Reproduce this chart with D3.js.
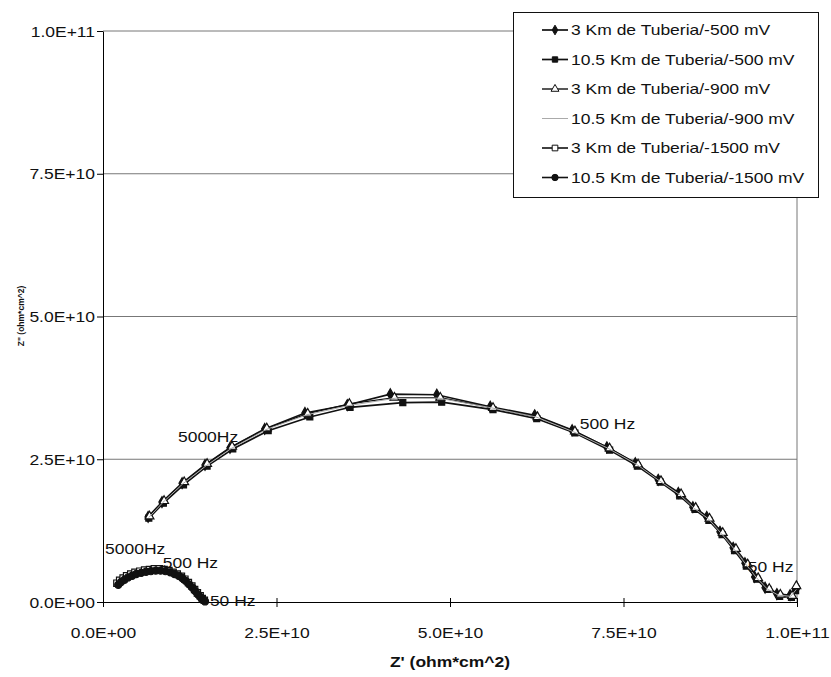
<!DOCTYPE html>
<html>
<head>
<meta charset="utf-8">
<script src="https://cdn.jsdelivr.net/npm/d3@7/dist/d3.min.js"></script>
<style>
  html, body { margin: 0; padding: 0; background: #fff; }
  svg { display: block; }
  text { font-family: "Liberation Sans", Arial, sans-serif; fill: #111; }
</style>
</head>
<body>
<svg id="chart" width="831" height="677"></svg>
<script>
// ---------------- DATA (values in units of 1E+10 ohm*cm^2) ----------------
const UNIT = 1e10;

const seriesNames = [
  "3 Km de Tuberia/-500 mV",
  "10.5 Km de Tuberia/-500 mV",
  "3 Km de Tuberia/-900 mV",
  "10.5 Km de Tuberia/-900 mV",
  "3 Km de Tuberia/-1500 mV",
  "10.5 Km de Tuberia/-1500 mV"
];

// 3 Km / -500 mV  [Z', Z'']
const s3km500 = [
  [0.65,1.49],[0.85,1.75],[1.14,2.08],[1.47,2.40],[1.83,2.70],[2.33,3.03],[2.91,3.31],
  [3.52,3.45],[4.14,3.64],[4.81,3.63],[5.58,3.42],[6.22,3.27],[6.76,3.01],[7.26,2.71],
  [7.67,2.43],[8.00,2.14],[8.29,1.91],[8.50,1.66],[8.70,1.49],[8.89,1.23],[9.08,0.95],
  [9.25,0.68],[9.39,0.44],[9.54,0.25],[9.71,0.14],[9.90,0.12],[10.0,0.25]
];
// 10.5 Km / -500 mV
const s105km500 = [
  [0.66,1.47],[0.87,1.73],[1.16,2.05],[1.50,2.38],[1.87,2.68],[2.38,3.00],[2.98,3.24],
  [3.56,3.41],[4.32,3.49],[4.88,3.50],[5.62,3.37],[6.25,3.21],[6.80,2.96],[7.30,2.66],
  [7.70,2.38],[8.03,2.10],[8.31,1.86],[8.53,1.62],[8.73,1.43],[8.92,1.18],[9.10,0.90],
  [9.27,0.63],[9.42,0.40],[9.58,0.22],[9.75,0.10],[9.92,0.08],[9.98,0.20]
];
// 3 Km / -900 mV
const s3km900 = [
  [0.67,1.50],[0.88,1.77],[1.17,2.10],[1.50,2.42],[1.86,2.72],[2.36,3.04],[2.95,3.30],
  [3.55,3.47],[4.20,3.58],[4.86,3.58],[5.62,3.40],[6.26,3.24],[6.80,2.99],[7.30,2.69],
  [7.71,2.41],[8.04,2.12],[8.33,1.89],[8.54,1.65],[8.74,1.46],[8.93,1.21],[9.12,0.93],
  [9.29,0.66],[9.44,0.42],[9.60,0.23],[9.76,0.13],[9.93,0.11],[9.99,0.28]
];
// 10.5 Km / -900 mV
const s105km900 = [
  [0.66,1.48],[0.86,1.74],[1.15,2.07],[1.49,2.39],[1.85,2.69],[2.35,3.02],[2.94,3.28],
  [3.54,3.44],[4.22,3.57],[4.84,3.57],[5.60,3.40],[6.24,3.24],[6.78,2.98],[7.28,2.69],
  [7.69,2.41],[8.02,2.12],[8.31,1.88],[8.52,1.64],[8.72,1.46],[8.91,1.20],[9.10,0.92],
  [9.27,0.65],[9.42,0.42],[9.57,0.23],[9.73,0.12],[9.91,0.10],[9.99,0.22]
];
// 3 Km / -1500 mV
const s3km1500 = [
  [0.20,0.33],[0.24,0.38],[0.29,0.42],[0.34,0.46],[0.40,0.49],[0.46,0.52],[0.53,0.54],
  [0.60,0.56],[0.67,0.57],[0.74,0.58],[0.81,0.58],[0.88,0.57],[0.95,0.55],[1.01,0.52],
  [1.07,0.49],[1.13,0.45],[1.18,0.40],[1.23,0.34],[1.28,0.28],[1.32,0.22],[1.36,0.16],
  [1.40,0.11],[1.43,0.06],[1.46,0.03]
];
// 10.5 Km / -1500 mV
const s105km1500 = [
  [0.22,0.30],[0.26,0.35],[0.31,0.39],[0.36,0.43],[0.42,0.46],[0.48,0.49],[0.55,0.51],
  [0.62,0.53],[0.69,0.54],[0.76,0.55],[0.83,0.55],[0.90,0.54],[0.97,0.52],[1.03,0.49],
  [1.09,0.46],[1.14,0.42],[1.19,0.37],[1.24,0.31],[1.29,0.25],[1.33,0.19],[1.37,0.13],
  [1.41,0.08],[1.44,0.04],[1.47,0.01]
];

const xTickValues = [0, 2.5, 5, 7.5, 10];
const xTickLabels = ["0.0E+00", "2.5E+10", "5.0E+10", "7.5E+10", "1.0E+11"];
const yTickValues = [0, 2.5, 5, 7.5, 10];
const yTickLabels = ["0.0E+00", "2.5E+10", "5.0E+10", "7.5E+10", "1.0E+11"];

const freqLabels = ["5000Hz", "500 Hz", "50 Hz", "5000Hz", "500 Hz", "50 Hz"];
const freqLabelX = [1.08, 6.87, 9.29, 0.03, 0.86, 1.54];
const freqLabelY = [2.80, 3.03, 0.53, 0.84, 0.60, -0.07];

const xTitle = "Z' (ohm*cm^2)";
const yTitle = "Z\" (ohm*cm^2)";

// ---------------- DRAWING ----------------
const svg = d3.select("#chart");
const SX = 1.25; // horizontal text stretch seen in the reference

const x = d3.scaleLinear().domain([0, 10 * UNIT]).range([103, 797]);
const y = d3.scaleLinear().domain([0, 10 * UNIT]).range([602, 31]);

function stext(g, px, py, str, anchor) {
  return g.append("text")
    .attr("transform", `translate(${px},${py}) scale(${SX},1)`)
    .attr("text-anchor", anchor || "start")
    .attr("font-size", 14)
    .text(str);
}

// gridlines (incl. top border)
svg.append("g").selectAll("line")
  .data(yTickValues.filter(v => v > 0))
  .join("line")
  .attr("x1", x(0)).attr("x2", x(10 * UNIT))
  .attr("y1", d => y(d * UNIT)).attr("y2", d => y(d * UNIT))
  .attr("stroke", "#777").attr("stroke-width", 1);
// right border
svg.append("line")
  .attr("x1", x(10 * UNIT)).attr("x2", x(10 * UNIT))
  .attr("y1", y(10 * UNIT)).attr("y2", y(0))
  .attr("stroke", "#777").attr("stroke-width", 1);

// axes
const yAxis = d3.axisLeft(y)
  .tickValues(yTickValues.map(v => v * UNIT))
  .tickFormat((d, i) => yTickLabels[i])
  .tickSizeInner(6).tickSizeOuter(0);
const gy = svg.append("g").attr("transform", `translate(${x(0)},0)`).call(yAxis);
gy.select(".domain").attr("stroke", "#000");
gy.selectAll(".tick line").attr("stroke", "#000");
gy.selectAll(".tick text")
  .attr("x", 0).attr("dy", null)
  .attr("transform", `translate(-8,5) scale(${SX},1)`)
  .attr("font-size", 14).attr("font-family", null).attr("fill", "#111");

const xAxis = d3.axisBottom(x)
  .tickValues(xTickValues.map(v => v * UNIT))
  .tickFormat((d, i) => xTickLabels[i])
  .tickSizeInner(5).tickSizeOuter(0);
const gx = svg.append("g").attr("transform", `translate(0,${y(0)})`).call(xAxis);
gx.select(".domain").attr("stroke", "#000");
gx.selectAll(".tick line").attr("stroke", "#000").attr("y1", -4);
gx.selectAll(".tick text")
  .attr("y", 0).attr("dy", null)
  .attr("transform", `translate(0,36) scale(${SX},1)`)
  .attr("font-size", 14).attr("font-family", null).attr("fill", "#111");

// series
const seriesData = [s3km500, s105km500, s3km900, s105km900, s3km1500, s105km1500];
const seriesStyle = [
  { symbol: d3.symbolDiamond, size: 34, fill: "#111", stroke: "#111", line: "#111", lw: 1.7 },
  { symbol: d3.symbolSquare,  size: 36, fill: "#111", stroke: "#111", line: "#111", lw: 1.7 },
  { symbol: d3.symbolTriangle, size: 34, fill: "#fff", stroke: "#111", line: "#111", lw: 1.4 },
  { symbol: null, size: 0, fill: "none", stroke: "none", line: "#aaa", lw: 1 },
  { symbol: d3.symbolSquare,  size: 40, fill: "#fff", stroke: "#111", line: "#111", lw: 1.6 },
  { symbol: d3.symbolCircle,  size: 40, fill: "#111", stroke: "#111", line: "#111", lw: 1.6 }
];

const lineGen = d3.line().x(d => x(d[0] * UNIT)).y(d => y(d[1] * UNIT));
const drawOrder = [4, 5, 0, 1, 2, 3];
drawOrder.forEach(i => {
  const st = seriesStyle[i];
  const g = svg.append("g");
  g.append("path").datum(seriesData[i])
    .attr("d", lineGen).attr("fill", "none")
    .attr("stroke", st.line).attr("stroke-width", st.lw);
  if (st.symbol) {
    g.selectAll("path.m").data(seriesData[i]).join("path")
      .attr("class", "m")
      .attr("d", d3.symbol().type(st.symbol).size(st.size))
      .attr("transform", d => `translate(${x(d[0] * UNIT)},${y(d[1] * UNIT)})`)
      .attr("fill", st.fill).attr("stroke", st.stroke).attr("stroke-width", 1.2);
  }
});

// frequency annotations
const ann = svg.append("g");
freqLabels.forEach((t, i) => {
  stext(ann, x(freqLabelX[i] * UNIT), y(freqLabelY[i] * UNIT), t, "start");
});

// axis titles
stext(svg, 450, 667, xTitle, "middle").attr("font-weight", "bold");
svg.append("text")
  .attr("transform", "translate(24,316) rotate(-90)")
  .attr("text-anchor", "middle")
  .attr("font-size", 8.5).attr("font-weight", "bold")
  .text(yTitle);

// legend
const lg = svg.append("g");
lg.append("rect").attr("x", 513.5).attr("y", 12.5).attr("width", 305).attr("height", 185)
  .attr("fill", "#fff").attr("stroke", "#111").attr("stroke-width", 1);
seriesNames.forEach((name, i) => {
  const cy = 30 + i * 29.5;
  const st = seriesStyle[i];
  lg.append("line").attr("x1", 542).attr("x2", 568).attr("y1", cy).attr("y2", cy)
    .attr("stroke", st.line).attr("stroke-width", st.lw);
  if (st.symbol) {
    lg.append("path").attr("d", d3.symbol().type(st.symbol).size(st.size * 0.8))
      .attr("transform", `translate(555,${cy})`)
      .attr("fill", st.fill).attr("stroke", st.stroke).attr("stroke-width", 1);
  }
  stext(lg, 571, cy + 5, name, "start");
});
</script>
</body>
</html>
